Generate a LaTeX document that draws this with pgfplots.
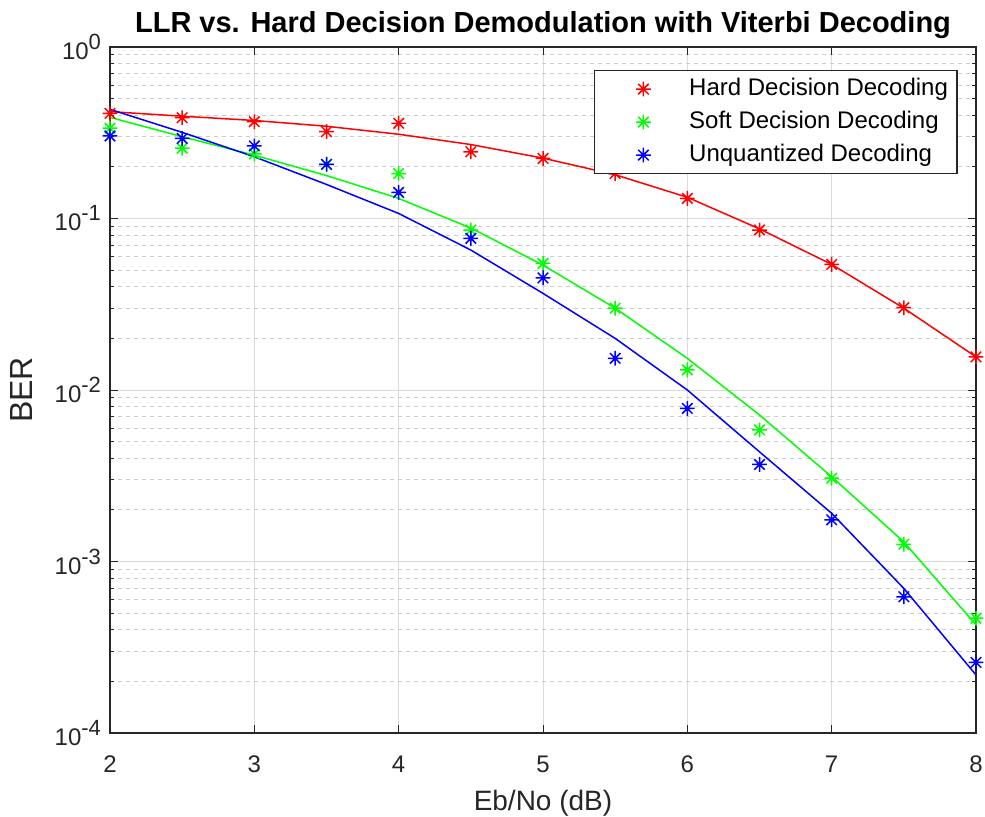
\documentclass[border=0pt]{standalone}
\usepackage{fontspec}
\setmainfont{Liberation Sans}
\usepackage{pgfplots}
\pgfplotsset{compat=1.18}
\definecolor{axgray}{gray}{0.15}
\definecolor{gridmaj}{gray}{0.86}
\definecolor{gridmin}{gray}{0.80}

% MATLAB-like '*' marker: a plus and a cross
\pgfdeclareplotmark{mstar}{%
  \pgfpathmoveto{\pgfqpoint{-\pgfplotmarksize}{0pt}}\pgfpathlineto{\pgfqpoint{\pgfplotmarksize}{0pt}}%
  \pgfpathmoveto{\pgfqpoint{0pt}{-\pgfplotmarksize}}\pgfpathlineto{\pgfqpoint{0pt}{\pgfplotmarksize}}%
  \pgfpathmoveto{\pgfqpoint{-.7071\pgfplotmarksize}{-.7071\pgfplotmarksize}}\pgfpathlineto{\pgfqpoint{.7071\pgfplotmarksize}{.7071\pgfplotmarksize}}%
  \pgfpathmoveto{\pgfqpoint{-.7071\pgfplotmarksize}{.7071\pgfplotmarksize}}\pgfpathlineto{\pgfqpoint{.7071\pgfplotmarksize}{-.7071\pgfplotmarksize}}%
  \pgfusepathqstroke}
\newcommand{\tenpow}[1]{10\raisebox{5pt}{\fontsize{11}{11}\selectfont #1}}
\pgfplotsset{
  starleg/.style={legend image code/.code={\path (0pt,-1pt) (42pt,1pt); \draw[##1] plot coordinates {(19.5pt,0pt)};}},
  sim/.style={only marks, mark=mstar, starleg},
}

\begin{document}
\begin{tikzpicture}
\begin{axis}[
  scale only axis,
  width=433pt, height=343pt,
  ymode=log,
  xmin=2, xmax=8, ymin=1e-4, ymax=1,
  xtick={2,3,4,5,6,7,8},
  ytick={1e-4,1e-3,1e-2,1e-1,1},
  yticklabels={\tenpow{-4},\tenpow{-3},\tenpow{-2},\tenpow{-1},\tenpow{0}},
  /pgf/number format/assume math mode=true,
  tick label style={font=\fontsize{12}{14}\selectfont, text=axgray},
  xticklabel style={anchor=base, yshift=-19.5pt},
  yticklabel style={anchor=east, xshift=-1pt},
  xtick pos=both, ytick pos=both,
  tick align=inside,
  major tick length=4pt, minor tick length=2pt,
  every tick/.style={axgray, line width=0.5pt},
  axis line style={axgray, line width=0.6pt},
  xmajorgrids, ymajorgrids, yminorgrids,
  major grid style={gridmaj, line width=0.5pt},
  minor grid style={gridmin, line width=0.5pt, dash pattern=on 2pt off 2pt},
  title={\bfseries LLR vs. Hard Decision Demodulation with Viterbi Decoding},
  title style={font=\fontsize{14.5}{16}\selectfont, at={(axis description cs:0.5,1)}, anchor=base, yshift=1.5pt},
  xlabel={Eb/No (dB)}, ylabel={BER},
  xlabel style={font=\fontsize{14}{16}\selectfont, text=axgray, at={(axis description cs:0.5,0)}, anchor=base, yshift=-38.5pt},
  ylabel style={font=\fontsize{16}{18}\selectfont, text=axgray, at={(axis description cs:0,0.5)}, anchor=center, yshift=44.5pt},
  legend style={at={(0.559,0.9665)}, anchor=north west, font=\fontsize{12}{14}\selectfont,
    draw=axgray, line width=0.6pt, inner xsep=4.5pt, inner ysep=3.6pt,
    nodes={inner sep=0pt, text height=8.8pt, text depth=2.5pt}, row sep=5.2pt, column sep=0pt},
  legend cell align=left,
  mark size=3.7pt,
  every axis plot/.append style={line width=0.75pt},
]
% simulated BER (markers)
\addplot[red, sim] coordinates {
  (2,0.41) (2.5,0.387) (3,0.367) (3.5,0.321) (4,0.359) (4.5,0.245) (5,0.224)
  (5.5,0.183) (6,0.131) (6.5,0.0857) (7,0.054) (7.5,0.0302) (8,0.0156)
};
\addlegendentry{Hard Decision Decoding}
\addplot[green, sim] coordinates {
  (2,0.336) (2.5,0.257) (3,0.238) (3.5,0.207) (4,0.183) (4.5,0.0857) (5,0.0547)
  (5.5,0.030) (6,0.0131) (6.5,0.00585) (7,0.00306) (7.5,0.00126) (8,0.000467)
};
\addlegendentry{Soft Decision Decoding}
\addplot[blue, sim] coordinates {
  (2,0.303) (2.5,0.293) (3,0.265) (3.5,0.207) (4,0.142) (4.5,0.0766) (5,0.0451)
  (5.5,0.0153) (6,0.00781) (6.5,0.00368) (7,0.00175) (7.5,0.000623) (8,0.000258)
};
\addlegendentry{Unquantized Decoding}
% fitted curves
\addplot[red, forget plot] coordinates {
  (2,0.42) (2.5,0.395) (3,0.373) (3.5,0.345) (4,0.31) (4.5,0.27) (5,0.225)
  (5.5,0.18) (6,0.133) (6.5,0.087) (7,0.054) (7.5,0.030) (8,0.0156)
};
\addplot[green, forget plot] coordinates {
  (2,0.389) (2.5,0.30) (3,0.234) (3.5,0.178) (4,0.131) (4.5,0.088) (5,0.0535)
  (5.5,0.030) (6,0.0153) (6.5,0.00715) (7,0.00312) (7.5,0.0013) (8,0.000427)
};
\addplot[blue, forget plot] coordinates {
  (2,0.433) (2.5,0.318) (3,0.229) (3.5,0.158) (4,0.107) (4.5,0.0655) (5,0.0366)
  (5.5,0.020) (6,0.0100) (6.5,0.00436) (7,0.00191) (7.5,0.000697) (8,0.000218)
};
\end{axis}
\pgfresetboundingbox
\path[use as bounding box] ([xshift=-55pt,yshift=-42pt]current axis.south west)
  rectangle ([xshift=4.5pt,yshift=23.5pt]current axis.north east);
\end{tikzpicture}
\end{document}
